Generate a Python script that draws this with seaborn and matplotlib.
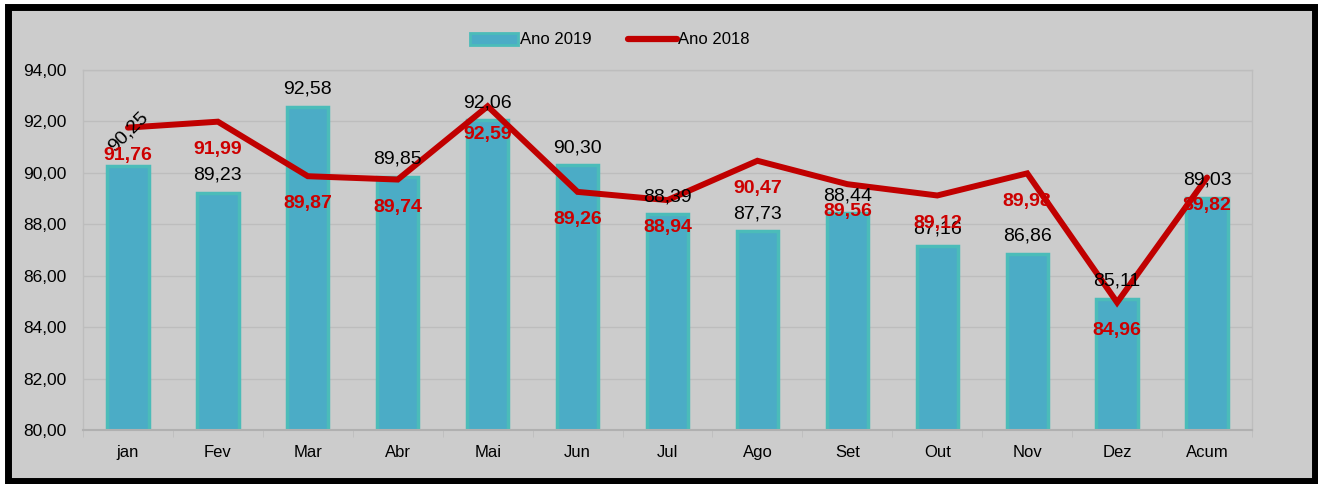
import numpy as np
import pandas as pd
import matplotlib
matplotlib.use('Agg')
import matplotlib.pyplot as plt
from matplotlib.patches import Rectangle
from matplotlib.lines import Line2D
from matplotlib.patches import Patch
from matplotlib.ticker import FuncFormatter, FixedLocator
import seaborn as sns

# data
months = ['jan', 'Fev', 'Mar', 'Abr', 'Mai', 'Jun', 'Jul', 'Ago', 'Set', 'Out', 'Nov', 'Dez', 'Acum']
ano_2019 = [90.25, 89.23, 92.58, 89.85, 92.06, 90.30, 88.39, 87.73, 88.44, 87.16, 86.86, 85.11, 89.03]
ano_2018 = [91.76, 91.99, 89.87, 89.74, 92.59, 89.26, 88.94, 90.47, 89.56, 89.12, 89.98, 84.96, 89.82]

df = pd.DataFrame({'mes': months, 'ano_2019': ano_2019, 'ano_2018': ano_2018})

sns.set_style('white')
plt.rcParams['font.family'] = ['Liberation Sans', 'DejaVu Sans']
plt.rcParams['text.color'] = 'black'

bg = '#CCCCCC'
grid = '#BDBDBD'
bar_face = '#4BACC6'
bar_edge = '#4BBCB9'
red = '#C00000'

fig = plt.figure(figsize=(13.18, 4.84), dpi=100)
fig.patch.set_facecolor('white')
# grey panel with thick black frame
frame = Rectangle((7.5 / 1318, 3.5 / 484), 1 - 11 / 1318, 1 - 10.5 / 484,
                  transform=fig.transFigure, facecolor=bg, edgecolor='black',
                  linewidth=5, zorder=0)
fig.add_artist(frame)

ax = fig.add_axes([83 / 1318, 1 - 430 / 484, (1252 - 83) / 1318, 360 / 484])
ax.set_zorder(2)
ax.set_facecolor(bg)

sns.barplot(data=df, x='mes', y='ano_2019', ax=ax, color=bar_face, saturation=1,
            width=0.46, edgecolor=bar_edge, linewidth=2.5, zorder=2)
x = np.arange(len(months))
sns.lineplot(x=x, y=df['ano_2018'], ax=ax, color=red, linewidth=4.3, zorder=3,
             solid_joinstyle='miter')

ax.set_ylim(80, 94)
ax.set_xlim(-0.5, len(months) - 0.5)
ax.set_yticks(np.arange(80, 95, 2))
ax.yaxis.set_major_formatter(FuncFormatter(lambda v, p: f'{v:.2f}'.replace('.', ',')))
ax.set_xlabel('')
ax.set_ylabel('')
ax.grid(axis='y', color=grid, linewidth=1, zorder=0)
ax.set_axisbelow(True)
for side in ['left', 'right', 'top']:
    ax.spines[side].set_color(grid)
    ax.spines[side].set_linewidth(1)
ax.spines['bottom'].set_color('#B0B0B0')
ax.spines['bottom'].set_linewidth(1.5)

ax.tick_params(axis='y', length=4, color=grid, pad=8, labelsize=12.5, labelcolor='black')
ax.tick_params(axis='x', which='major', length=0, pad=11, labelsize=12, labelcolor='black')
ax.xaxis.set_minor_locator(FixedLocator(np.arange(-0.5, len(months), 1)))
ax.tick_params(axis='x', which='minor', length=5, color=grid, bottom=True)

# labels
for i, v in enumerate(ano_2019):
    if i == 0:
        ax.annotate(f'{v:.2f}'.replace('.', ','), (i, v), xytext=(0, 25), textcoords='offset points',
                    ha='center', va='center', fontsize=14, rotation=45, color='black', zorder=5)
    else:
        ax.annotate(f'{v:.2f}'.replace('.', ','), (i, v), xytext=(0, 12.5), textcoords='offset points',
                    ha='center', va='center', fontsize=14, color='black', zorder=5)
for i, v in enumerate(ano_2018):
    ax.annotate(f'{v:.2f}'.replace('.', ','), (i, v), xytext=(0, -20), textcoords='offset points',
                ha='center', va='center', fontsize=14, fontweight='bold', color='#CC0000', zorder=6)

handles = [Patch(facecolor=bar_face, edgecolor=bar_edge, linewidth=2, label='Ano 2019'),
           Line2D([0], [0], color=red, linewidth=4.5, label='Ano 2018')]
leg = fig.legend(handles=handles, loc='center', bbox_to_anchor=(610 / 1318, 1 - 40 / 484), ncol=2,
                 frameon=False, fontsize=12, handlelength=2.9, handletextpad=0.1, columnspacing=2.2,
                 labelcolor='black')
leg.set_zorder(3)

fig.savefig('out.png', dpi=100)
